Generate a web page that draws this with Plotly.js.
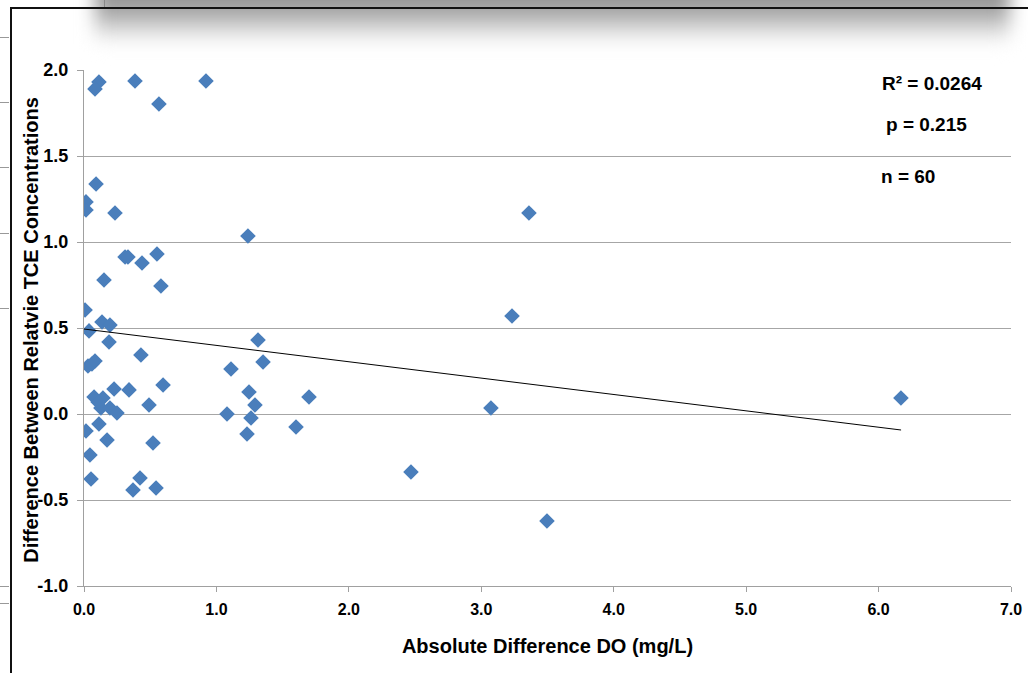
<!DOCTYPE html>
<html>
<head>
<meta charset="utf-8">
<script src="https://cdn.plot.ly/plotly-3.0.1.min.js"></script>
<style>
  html, body { margin: 0; padding: 0; background: #fff; }
  #wrap { position: relative; width: 1028px; height: 673px; overflow: hidden; }
  #chart { position: absolute; left: 0; top: 0; width: 1028px; height: 673px; }
  .deco { position: absolute; pointer-events: none; }
</style>
</head>
<body>
<div id="wrap">
  <div class="deco" style="left:95px;top:-20px;width:915px;height:64px;background:linear-gradient(to bottom,#848484 0%,#a2a2a2 45%,#e0e0e0 80%,#ffffff 100%);filter:blur(9px);"></div>
  <div id="chart"></div>
  <div class="deco" style="left:10px;top:7px;width:1018px;height:2px;background:#111;"></div>
  <div class="deco" style="left:10px;top:7px;width:2px;height:666px;background:#111;"></div>
  <div class="deco" style="left:104px;top:0px;width:1px;height:7px;background:#888;"></div>
  <div class="deco" style="left:0px;top:37px;width:9px;height:1px;background:#999;"></div>
  <div class="deco" style="left:0px;top:102px;width:9px;height:1px;background:#999;"></div>
  <div class="deco" style="left:0px;top:167px;width:9px;height:1px;background:#999;"></div>
  <div class="deco" style="left:0px;top:233px;width:9px;height:1px;background:#999;"></div>
  <div class="deco" style="left:0px;top:308px;width:9px;height:1px;background:#999;"></div>
  <div class="deco" style="left:0px;top:586px;width:9px;height:1px;background:#999;"></div>
  <div class="deco" style="left:0px;top:603px;width:9px;height:1px;background:#999;"></div>
</div>
<script>
// Absolute difference in DO (mg/L)
const doDiff = [
  0.113, 0.083, 0.385, 0.921, 0.566, 0.091, 0.015, 0.015, 0.234, 1.238,
  3.360, 0.310, 0.332, 0.438, 0.551, 0.151, 0.581, 0.008, 0.038, 0.136,
  0.196, 0.189, 0.430, 0.030, 0.060, 0.083, 1.110, 1.314, 1.352, 3.232,
  0.597, 1.246, 0.227, 0.340, 0.076, 0.143, 0.128, 0.196, 0.249, 0.491,
  1.080, 1.291, 1.261, 1.699, 1.601, 1.231, 3.073, 6.169, 0.015, 0.113,
  0.174, 0.521, 0.045, 0.053, 0.423, 0.370, 0.544, 2.469, 3.496, 0.106
];
// Difference between relative TCE concentrations
const tceDiff = [
  1.930, 1.890, 1.936, 1.936, 1.802, 1.337, 1.233, 1.186, 1.169, 1.035,
  1.169, 0.913, 0.913, 0.878, 0.930, 0.779, 0.744, 0.605, 0.483, 0.535,
  0.517, 0.419, 0.343, 0.279, 0.291, 0.308, 0.262, 0.430, 0.302, 0.570,
  0.169, 0.128, 0.145, 0.140, 0.099, 0.093, 0.035, 0.035, 0.006, 0.052,
  0.000, 0.052, -0.023, 0.099, -0.076, -0.116, 0.035, 0.093, -0.099, -0.058,
  -0.151, -0.169, -0.238, -0.378, -0.372, -0.442, -0.430, -0.337, -0.622, 0.070
];
// Linear trendline end points
const trendX = [0.0, 6.17];
const trendY = [0.494, -0.093];
// Tick labels
const xTicks = [0, 1, 2, 3, 4, 5, 6, 7];
const xTickText = ["0.0", "1.0", "2.0", "3.0", "4.0", "5.0", "6.0", "7.0"];
const yTicks = [-1.0, -0.5, 0.0, 0.5, 1.0, 1.5, 2.0];
const yTickText = ["-1.0", "-0.5", "0.0", "0.5", "1.0", "1.5", "2.0"];
// Titles and statistics
const xTitle = "Absolute Difference DO (mg/L)";
const yTitle = "Difference Between Relatvie TCE Concentrations";
const statLabels = ["R\u00b2 = 0.0264", "p = 0.215", "n = 60"];

const FONT = "Liberation Sans, Arial, sans-serif";

const traces = [
  {
    x: doDiff, y: tceDiff, type: "scatter", mode: "markers",
    marker: { symbol: "diamond", size: 12, color: "#4a7ebb", line: { width: 0 } },
    hoverinfo: "x+y", showlegend: false
  },
  {
    x: trendX, y: trendY, type: "scatter", mode: "lines",
    line: { color: "#000000", width: 1 }, hoverinfo: "skip", showlegend: false
  }
];

const layout = {
  width: 1028, height: 673,
  margin: { l: 84, r: 17, t: 70, b: 87, pad: 0 },
  paper_bgcolor: "rgba(0,0,0,0)",
  plot_bgcolor: "#ffffff",
  font: { family: FONT, size: 14, color: "#000" },
  showlegend: false,
  xaxis: {
    range: [0, 7], tickvals: xTicks, ticktext: xTickText,
    showgrid: false, zeroline: false,
    showline: true, linecolor: "#a0a0a0", linewidth: 1,
    ticks: "outside", ticklen: 5, tickcolor: "#a0a0a0",
    ticklabelstandoff: 4,
    tickfont: { family: FONT, size: 16, color: "#000", weight: "bold" },
    title: { text: "<b>" + xTitle + "</b>", font: { family: FONT, size: 20, color: "#000" }, standoff: 21 }
  },
  yaxis: {
    range: [-1, 2], tickvals: yTicks, ticktext: yTickText,
    showgrid: true, gridcolor: "#a6a6a6", gridwidth: 1, zeroline: false,
    showline: true, linecolor: "#a0a0a0", linewidth: 1,
    ticks: "outside", ticklen: 6, tickcolor: "#a0a0a0",
    ticklabelstandoff: 5,
    tickfont: { family: FONT, size: 18, color: "#000", weight: "bold" }
  },
  annotations: [
    { text: "<b>" + yTitle + "</b>", xref: "paper", yref: "paper", x: -0.058, y: 0.497, xanchor: "center", yanchor: "middle", textangle: -90, showarrow: false, font: { family: FONT, size: 20, color: "#000" } },
    { text: "<b>" + statLabels[0] + "</b>", xref: "paper", yref: "paper", x: 0.915, y: 0.973, xanchor: "center", yanchor: "middle", showarrow: false, font: { family: FONT, size: 19, color: "#000" } },
    { text: "<b>" + statLabels[1] + "</b>", xref: "paper", yref: "paper", x: 0.909, y: 0.894, xanchor: "center", yanchor: "middle", showarrow: false, font: { family: FONT, size: 19, color: "#000" } },
    { text: "<b>" + statLabels[2] + "</b>", xref: "paper", yref: "paper", x: 0.889, y: 0.794, xanchor: "center", yanchor: "middle", showarrow: false, font: { family: FONT, size: 19, color: "#000" } }
  ]
};

Plotly.newPlot("chart", traces, layout, { displayModeBar: false, staticPlot: true });
</script>
</body>
</html>
